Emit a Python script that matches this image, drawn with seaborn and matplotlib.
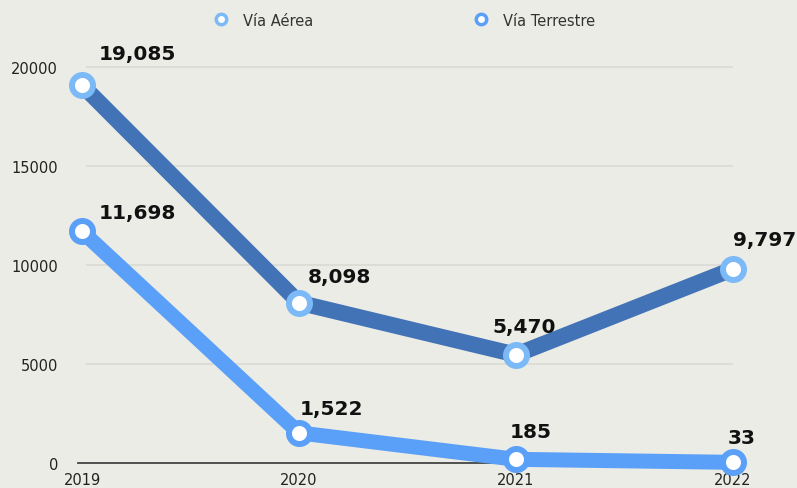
import matplotlib
matplotlib.use("Agg")
import matplotlib.pyplot as plt
from matplotlib.lines import Line2D
import seaborn as sns
import pandas as pd

years = [2019, 2020, 2021, 2022]
aerea = [19085, 8098, 5470, 9797]
terrestre = [11698, 1522, 185, 33]
series_names = ["Vía Aérea", "Vía Terrestre"]
y_ticks = [0, 5000, 10000, 15000, 20000]

# label offsets in pixels (dx, dy) from each point
aerea_offsets = [(55, 32), (40, 26), (8, 28), (32, 30)]
terrestre_offsets = [(55, 19), (32, 24), (15, 28), (9, 25)]

BG = "#ecece6"
DARK = "#4173b6"
LIGHT = "#5ba0f8"
RING = "#7cb9f7"

sns.set_style("white")
plt.rcParams["font.family"] = ["DejaVu Sans"]

fig = plt.figure(figsize=(7.97, 4.89), dpi=100, facecolor=BG)
W, H = 797, 489
ax = fig.add_axes([78 / W, (H - 464) / H, (733 - 78) / W, (464 - 40) / H])
ax.set_facecolor(BG)

df = pd.DataFrame({"year": years * 2,
                   "value": aerea + terrestre,
                   "serie": [series_names[0]] * 4 + [series_names[1]] * 4})

px = 72 / 100
sns.lineplot(data=df[df.serie == series_names[1]], x="year", y="value", ax=ax,
             color=LIGHT, linewidth=15 * px, marker="o", markersize=21 * px,
             markerfacecolor="white", markeredgecolor=LIGHT, markeredgewidth=6 * px,
             clip_on=False, zorder=3, legend=False)
sns.lineplot(data=df[df.serie == series_names[0]], x="year", y="value", ax=ax,
             color=DARK, linewidth=16 * px, marker="o", markersize=21 * px,
             markerfacecolor="white", markeredgecolor=RING, markeredgewidth=6 * px,
             clip_on=False, zorder=4, legend=False)

per_year = (733 - 82) / 3
ax.set_xlim(2019 - 4 / per_year, 2022)
ax.set_ylim(0, 20000 + 28 / 99 * 5000)

ax.hlines(y_ticks[1:], 2019 + 4 / per_year, 2022, color="#dadad4", linewidth=1.2, zorder=1)

for vals, offs in [(aerea, aerea_offsets), (terrestre, terrestre_offsets)]:
    for x, v, (dx, dy) in zip(years, vals, offs):
        ax.annotate(f"{v:,}", (x, v), xytext=(dx * px, dy * px), textcoords="offset points",
                    ha="center", va="center", fontsize=14.5, fontweight="bold",
                    color="#111111", zorder=6)

ax.set_xticks(years)
ax.set_xticklabels([str(y) for y in years])
ax.set_yticks(y_ticks)
ax.set_yticklabels([str(t) for t in y_ticks])
ax.tick_params(axis="y", direction="in", length=8 * px, width=1.2, color="#333333",
               pad=20 * px, labelsize=10.5, labelcolor="#222222")
ax.tick_params(axis="x", length=0, pad=9 * px, labelsize=10.5, labelcolor="#222222")
ax.set_xlabel("")
ax.set_ylabel("")
for s in ["top", "right", "left"]:
    ax.spines[s].set_visible(False)
ax.spines["bottom"].set_color("#444444")
ax.spines["bottom"].set_linewidth(1.3)
ax.spines["bottom"].set_zorder(2)

handles = [Line2D([], [], linestyle="none", marker="o", markersize=7.5, markerfacecolor="white",
                  markeredgecolor=c, markeredgewidth=2.5) for c in [RING, LIGHT]]
fig.legend(handles, series_names, loc="center", bbox_to_anchor=(401 / W, 1 - 21 / H),
           ncol=2, frameon=False, fontsize=10.5, columnspacing=10.5, handletextpad=0.5,
           labelcolor="#333333")

fig.savefig("out.png", dpi=100, facecolor=BG)
